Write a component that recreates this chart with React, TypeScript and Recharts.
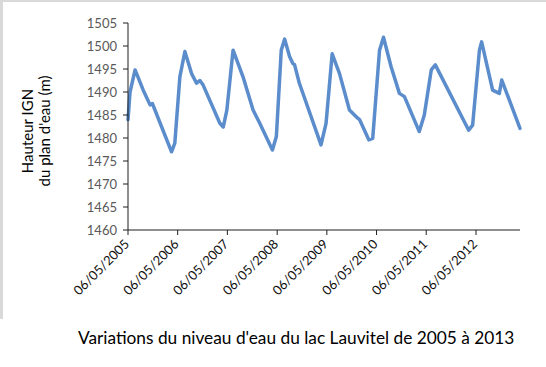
import { Line, LineChart, XAxis, YAxis } from "recharts";

const dates = [
  "2005-05-06", "2005-05-21", "2005-06-27", "2005-08-26", "2005-10-15", "2005-11-01",
  "2006-03-22", "2006-04-15", "2006-05-22", "2006-06-28", "2006-08-16", "2006-09-22",
  "2006-10-16", "2006-11-09", "2007-03-12", "2007-04-06", "2007-05-02", "2007-06-17",
  "2007-08-29", "2007-11-11", "2007-12-30", "2008-04-01", "2008-04-30", "2008-06-05",
  "2008-06-30", "2008-08-05", "2008-08-29", "2008-09-10", "2008-10-16", "2009-03-24",
  "2009-04-30", "2009-06-14", "2009-08-07", "2009-10-19", "2009-12-19", "2010-01-01",
  "2010-03-10", "2010-04-08", "2010-05-28", "2010-06-26", "2010-08-21", "2010-10-21",
  "2010-11-27", "2011-03-16", "2011-04-22", "2011-06-12", "2011-07-12", "2012-03-13",
  "2012-04-11", "2012-05-31", "2012-06-16", "2012-09-05", "2012-10-24", "2012-11-11",
  "2013-03-25",
];

const levels = [
  1484.0, 1490.0, 1494.8, 1490.4, 1487.2, 1487.5,
  1477.0, 1478.9, 1493.3, 1498.8, 1494.0, 1491.9,
  1492.5, 1491.5, 1483.2, 1482.4, 1486.0, 1499.1,
  1493.3, 1486.1, 1483.2, 1477.4, 1480.3, 1499.1,
  1501.5, 1497.7, 1496.2, 1496.0, 1491.9, 1478.5,
  1483.2, 1498.3, 1494.0, 1486.1, 1484.3, 1484.0,
  1479.6, 1479.9, 1499.1, 1501.9, 1495.5, 1489.7,
  1489.0, 1481.4, 1485.0, 1494.8, 1495.9, 1481.7,
  1482.8, 1499.1, 1500.9, 1490.4, 1489.7, 1492.6,
  1482.1,
];

const tickYears = [2005, 2006, 2007, 2008, 2009, 2010, 2011, 2012];
const yTicks = [1460, 1465, 1470, 1475, 1480, 1485, 1490, 1495, 1500, 1505];

const toTime = (s: string) => {
  const [y, m, d] = s.split("-").map(Number);
  return Date.UTC(y, m - 1, d);
};

const data = dates.map((d, i) => ({ t: toTime(d), level: levels[i] }));
const xTicks = tickYears.map((y) => Date.UTC(y, 4, 6));

const FONT = "Lato, 'Open Sans', sans-serif";

function formatDate(v: number) {
  const d = new Date(v);
  const dd = String(d.getUTCDate()).padStart(2, "0");
  const mm = String(d.getUTCMonth() + 1).padStart(2, "0");
  return `${dd}/${mm}/${d.getUTCFullYear()}`;
}

function DateTick({ x, y, payload }: any) {
  return (
    <text
      x={x + 2}
      y={y + 8}
      transform={`rotate(-45, ${x + 2}, ${y + 8})`}
      textAnchor="end"
      fill="#111"
      fontSize={13}
      fontFamily={FONT}
    >
      {formatDate(payload.value)}
    </text>
  );
}

export default function App() {
  return (
    <div
      style={{
        position: "absolute",
        left: 0,
        top: 0,
        width: 546,
        height: 367,
        background: "#fff",
      }}
    >
      <div style={{ position: "absolute", left: 0, top: 0, width: 546, height: 2, background: "#d9d9d9" }} />
      <div style={{ position: "absolute", left: 0, top: 0, width: 3, height: 319, background: "#d9d9d9" }} />
      <LineChart
        width={546}
        height={367}
        data={data}
        margin={{ top: 23, right: 26, left: 0, bottom: 57 }}
      >
        <XAxis
          dataKey="t"
          type="number"
          scale="time"
          domain={[data[0].t, data[data.length - 1].t]}
          ticks={xTicks}
          tick={<DateTick />}
          tickSize={5}
          height={80}
          interval={0}
          stroke="#1f1f1f"
        />
        <YAxis
          domain={[1460, 1505]}
          ticks={yTicks}
          width={128}
          tickSize={5}
          tickMargin={6}
          interval={0}
          stroke="#1f1f1f"
          tick={{ fill: "#595959", fontSize: 13, fontFamily: FONT }}
        />
        <Line
          type="linear"
          dataKey="level"
          stroke="#5b8ccc"
          strokeWidth={3.5}
          dot={false}
          strokeLinejoin="round"
          strokeLinecap="round"
          isAnimationActive={false}
        />
      </LineChart>
      <svg
        width={546}
        height={367}
        style={{ position: "absolute", left: 0, top: 0, pointerEvents: "none" }}
      >
        <text
          transform="translate(33, 131) rotate(-90)"
          textAnchor="middle"
          fontSize={15}
          fontFamily={FONT}
          fill="#000"
        >
          Hauteur IGN
        </text>
        <text
          transform="translate(50, 131) rotate(-90)"
          textAnchor="middle"
          fontSize={15}
          fontFamily={FONT}
          fill="#000"
        >
          du plan d'eau (m)
        </text>
        <text x={78} y={344} fontSize={17.3} fontFamily={FONT} fill="#000">
          Variations du niveau d'eau du lac Lauvitel de 2005 à 2013
        </text>
      </svg>
    </div>
  );
}
